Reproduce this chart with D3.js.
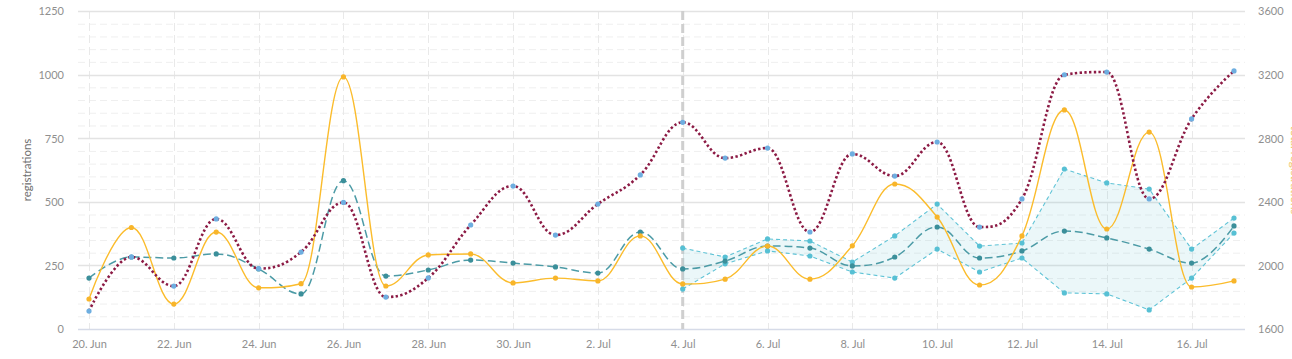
<!DOCTYPE html>
<html>
<head>
<meta charset="utf-8">
<script src="https://cdn.jsdelivr.net/npm/d3@7/dist/d3.min.js"></script>
<style>
  html, body { margin: 0; padding: 0; background: #ffffff; }
  svg { display: block; }
  text { font-family: Lato, "Noto Sans", sans-serif; }
</style>
</head>
<body>
<svg id="chart" width="1292" height="359"></svg>
<script>
// ---------- DATA ----------
const dates = ["2023-06-20","2023-06-21","2023-06-22","2023-06-23","2023-06-24","2023-06-25","2023-06-26",
  "2023-06-27","2023-06-28","2023-06-29","2023-06-30","2023-07-01","2023-07-02","2023-07-03",
  "2023-07-04","2023-07-05","2023-07-06","2023-07-07","2023-07-08","2023-07-09","2023-07-10",
  "2023-07-11","2023-07-12","2023-07-13","2023-07-14","2023-07-15","2023-07-16","2023-07-17"];
const registrations = [118, 399, 98, 381, 162, 178, 991, 169, 291, 295, 181, 200, 189, 366,
  177, 196, 326, 196, 327, 570, 440, 173, 366, 861, 393, 774, 165, 189];
const trend = [200, 283, 279, 295, 236, 138, 583, 208, 232, 271, 259, 244, 220, 381,
  236, 267, 326, 318, 248, 283, 401, 279, 307, 385, 358, 314, 259, 405];
const cumulative = [1713, 2053, 1870, 2292, 1980, 2084, 2396, 1801, 1921, 2254, 2499, 2191, 2386, 2569,
  2900, 2675, 2738, 2210, 2701, 2562, 2776, 2241, 2418, 3199, 3216, 2418, 2921, 3223];
const forecastDates = dates.slice(14);
const forecastUpper = [318, 283, 354, 346, 263, 366, 491, 326, 338, 629, 574, 550, 314, 436];
const forecastLower = [157, 256, 307, 287, 224, 200, 314, 224, 279, 142, 138, 75, 200, 377];
const markerDate = "2023-07-04";
const xTickDates = ["2023-06-20","2023-06-22","2023-06-24","2023-06-26","2023-06-28","2023-06-30",
  "2023-07-02","2023-07-04","2023-07-06","2023-07-08","2023-07-10","2023-07-12","2023-07-14","2023-07-16"];
const leftTicks = [0, 250, 500, 750, 1000, 1250];
const rightTicks = [1600, 2000, 2400, 2800, 3200, 3600];
const leftTitle = "registrations";
const rightTitle = "total registrations";

// ---------- SETUP ----------
const parse = d3.utcParse("%Y-%m-%d");
const fmt = d3.utcFormat("%-d. %b");
const svg = d3.select("#chart");
const plot = { left: 78, right: 1245, top: 11, bottom: 329 };

const x = d3.scaleUtc()
  .domain([parse(dates[0]), parse(dates[dates.length - 1])])
  .range([89, 1234]);
const yL = d3.scaleLinear().domain([0, 1250]).range([plot.bottom, plot.top]);
const yR = d3.scaleLinear().domain([1600, 3600]).range([plot.bottom, plot.top]);

// Highcharts-like spline curve
function HCSpline(context) { this._context = context; }
HCSpline.prototype = {
  areaStart() {}, areaEnd() {},
  lineStart() { this._pts = []; },
  point(px, py) { this._pts.push([+px, +py]); },
  lineEnd() {
    const p = this._pts, c = this._context, n = p.length;
    if (!n) return;
    c.moveTo(p[0][0], p[0][1]);
    const L = new Array(n), R = new Array(n);
    for (let i = 1; i < n - 1; i++) {
      const [px, py] = p[i], [lx, ly] = p[i - 1], [nx, ny] = p[i + 1];
      let lcx = (1.5 * px + lx) / 2.5, lcy = (1.5 * py + ly) / 2.5;
      let rcx = (1.5 * px + nx) / 2.5, rcy = (1.5 * py + ny) / 2.5;
      let corr = 0;
      if (rcx !== lcx) corr = ((rcy - lcy) * (rcx - px)) / (rcx - lcx) + py - rcy;
      lcy += corr; rcy += corr;
      if (lcy > ly && lcy > py) { lcy = Math.max(ly, py); rcy = 2 * py - lcy; }
      else if (lcy < ly && lcy < py) { lcy = Math.min(ly, py); rcy = 2 * py - lcy; }
      if (rcy > ny && rcy > py) { rcy = Math.max(ny, py); lcy = 2 * py - rcy; }
      else if (rcy < ny && rcy < py) { rcy = Math.min(ny, py); lcy = 2 * py - rcy; }
      L[i] = [lcx, lcy]; R[i] = [rcx, rcy];
    }
    for (let i = 1; i < n; i++) {
      const a = R[i - 1] || p[i - 1], b = L[i] || p[i];
      c.bezierCurveTo(a[0], a[1], b[0], b[1], p[i][0], p[i][1]);
    }
  }
};
const curveHC = ctx => new HCSpline(ctx);

// ---------- GRID ----------
const grid = svg.append("g");
const minor = d3.range(0, 1250 + 1, 50).filter(v => v % 250 !== 0);
grid.selectAll("line.minor").data(minor).join("line")
  .attr("x1", plot.left).attr("x2", plot.right)
  .attr("y1", d => yL(d) + 0.5).attr("y2", d => yL(d) + 0.5)
  .attr("stroke", "#efefef").attr("stroke-width", 1).attr("stroke-dasharray", "7,4");
grid.selectAll("line.vx").data(xTickDates).join("line")
  .attr("x1", d => Math.round(x(parse(d))) + 0.5).attr("x2", d => Math.round(x(parse(d))) + 0.5)
  .attr("y1", plot.top).attr("y2", plot.bottom)
  .attr("stroke", "#e9e9e9").attr("stroke-width", 1).attr("stroke-dasharray", "8,4");
grid.selectAll("line.major").data(leftTicks.filter(d => d > 0)).join("line")
  .attr("x1", plot.left).attr("x2", plot.right)
  .attr("y1", d => Math.round(yL(d)) + 0.5).attr("y2", d => Math.round(yL(d)) + 0.5)
  .attr("stroke", "#e3e3e3").attr("stroke-width", 1.3);
svg.append("line")
  .attr("x1", plot.left).attr("x2", plot.right)
  .attr("y1", plot.bottom + 0.5).attr("y2", plot.bottom + 0.5)
  .attr("stroke", "#d6dbe8").attr("stroke-width", 1.5);

svg.append("line")
  .attr("x1", x(parse(markerDate))).attr("x2", x(parse(markerDate)))
  .attr("y1", plot.top).attr("y2", plot.bottom)
  .attr("stroke", "#cfcfcf").attr("stroke-width", 3).attr("stroke-dasharray", "9,4");

// ---------- AXES ----------
const axL = svg.append("g").attr("transform", `translate(64,0)`)
  .call(d3.axisLeft(yL).tickValues(leftTicks).tickSize(0).tickPadding(0).tickFormat(d3.format("d")));
axL.select(".domain").remove();
axL.selectAll("text").attr("fill", "#8f8f8f").attr("font-size", 11).attr("dy", "0.35em");

const axR = svg.append("g").attr("transform", `translate(1258,0)`)
  .call(d3.axisRight(yR).tickValues(rightTicks).tickSize(0).tickPadding(0).tickFormat(d3.format("d")));
axR.select(".domain").remove();
axR.selectAll("text").attr("fill", "#8f8f8f").attr("font-size", 11).attr("dy", "0.35em");

const axX = svg.append("g").attr("transform", `translate(0,${plot.bottom})`)
  .call(d3.axisBottom(x).tickValues(xTickDates.map(parse)).tickSize(0).tickPadding(0).tickFormat(fmt));
axX.select(".domain").remove();
axX.selectAll("text").attr("fill", "#8f8f8f").attr("font-size", 11).attr("y", 19).attr("dy", 0);

svg.append("text")
  .attr("transform", `translate(31,${(plot.top + plot.bottom) / 2}) rotate(-90)`)
  .attr("text-anchor", "middle").attr("fill", "#6f6f6f").attr("font-size", 11.5)
  .text(leftTitle);
svg.append("text")
  .attr("transform", `translate(1290.5,${(plot.top + plot.bottom) / 2}) rotate(90)`)
  .attr("text-anchor", "middle").attr("fill", "#f3c86a").attr("font-size", 11.5)
  .text(rightTitle);

// ---------- SERIES ----------
const fx = forecastDates.map(parse);
const rangeData = fx.map((d, i) => ({ d, hi: forecastUpper[i], lo: forecastLower[i] }));

svg.append("path").datum(rangeData)
  .attr("d", d3.area().x(d => x(d.d)).y0(d => yL(d.lo)).y1(d => yL(d.hi)))
  .attr("fill", "rgba(92,188,208,0.12)");
["hi", "lo"].forEach(k => {
  svg.append("path").datum(rangeData)
    .attr("d", d3.line().x(d => x(d.d)).y(d => yL(d[k])))
    .attr("fill", "none").attr("stroke", "#5fc3d6").attr("stroke-width", 1.1)
    .attr("stroke-dasharray", "4,3");
});

const dx = dates.map(parse);
const trendData = dx.map((d, i) => ({ d, v: trend[i] }));
const regData = dx.map((d, i) => ({ d, v: registrations[i] }));
const cumData = dx.map((d, i) => ({ d, v: cumulative[i] }));

svg.append("path").datum(trendData)
  .attr("d", d3.line().x(d => x(d.d)).y(d => yL(d.v)).curve(curveHC))
  .attr("fill", "none").attr("stroke", "#4c9ba6").attr("stroke-width", 1.5)
  .attr("stroke-dasharray", "8,4");

svg.append("path").datum(regData)
  .attr("d", d3.line().x(d => x(d.d)).y(d => yL(d.v)).curve(curveHC))
  .attr("fill", "none").attr("stroke", "#fbbc2c").attr("stroke-width", 1.4);

svg.append("path").datum(cumData)
  .attr("d", d3.line().x(d => x(d.d)).y(d => yR(d.v)).curve(curveHC))
  .attr("fill", "none").attr("stroke", "#8c1b45").attr("stroke-width", 2.6)
  .attr("stroke-dasharray", "2.4,2.4");

// ---------- MARKERS ----------
function markers(data, yS, key, color, r) {
  svg.append("g").selectAll("circle").data(data).join("circle")
    .attr("cx", d => x(d.d)).attr("cy", d => yS(d[key])).attr("r", r).attr("fill", color);
}
markers(rangeData, yL, "hi", "#57c0d4", 2.6);
markers(rangeData, yL, "lo", "#57c0d4", 2.6);
markers(trendData, yL, "v", "#3b8f9a", 2.6);
markers(regData, yL, "v", "#f8b52a", 2.6);
markers(cumData, yR, "v", "#6eaee0", 2.6);
</script>
</body>
</html>
